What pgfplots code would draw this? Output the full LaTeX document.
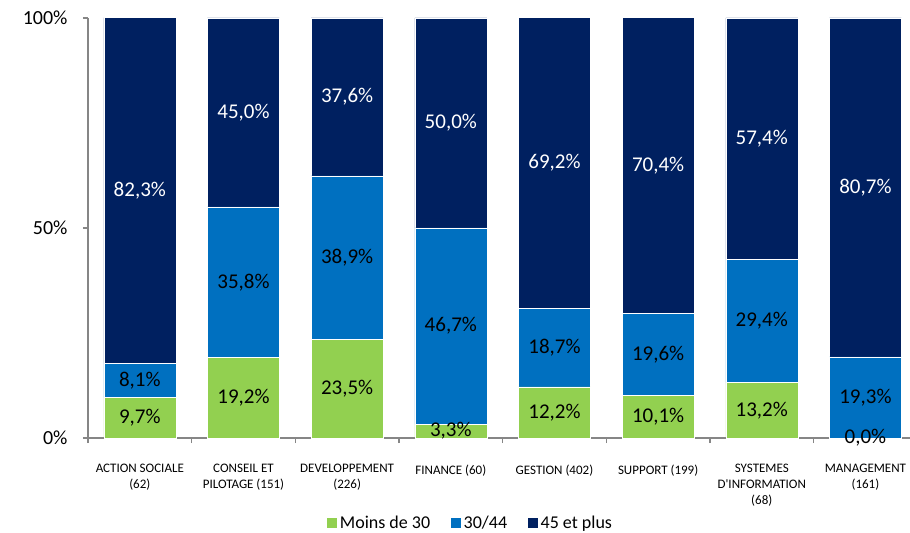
\documentclass[border=0pt]{standalone}
\usepackage{pgfplots}
\pgfplotsset{compat=1.18}
\usepackage{pgfplotstable}
\usepackage{fontspec}
\setmainfont{Carlito}
\definecolor{cgreen}{HTML}{92D050}
\definecolor{cblue}{HTML}{0070C0}
\definecolor{cnavy}{HTML}{002060}
\definecolor{axgray}{HTML}{868686}
\pgfplotstableread{
x g b n
0 9.7 8.1 82.3
1 19.2 35.8 45.0
2 23.5 38.9 37.6
3 3.3 46.7 50.0
4 12.2 18.7 69.2
5 10.1 19.6 70.4
6 13.2 29.4 57.4
7 0.0 19.3 80.7
}\data
\pgfplotsset{
  geom/.style={
    at={(0,0)}, anchor=south west,
    scale only axis, width=822bp, height=420bp,
    xmin=-0.5, xmax=7.43, ymin=0, ymax=100,
    clip=false, ybar stacked, bar width=72bp,
  },
}
\begin{document}
\begin{tikzpicture}
\useasboundingbox (-88bp,-95bp) rectangle (822bp,438bp);
\begin{axis}[
  geom,
  axis x line=bottom, axis y line=left,
  axis line style={draw=axgray, line width=1.5bp, -},
  every tick/.style={draw=axgray, line width=1.5bp},
  tick align=outside,
  ytick={0,50,100},
  yticklabel={\pgfmathprintnumber{\tick}\%},
  yticklabel style={font=\fontsize{20bp}{24bp}\selectfont, anchor=east, xshift=-12bp},
  major tick length=5bp,
  xtick={0,...,7},
  x tick style={draw=none},
  extra x ticks={-0.5,0.5,1.5,2.5,3.5,4.5,5.5,6.5},
  extra x tick labels={},
  extra x tick style={x tick style={draw=axgray, line width=1.5bp}, major tick length=5bp},
  xticklabels={{ACTION SOCIALE\\(62)},{CONSEIL ET\\PILOTAGE (151)},{DEVELOPPEMENT\\(226)},{FINANCE (60)},{GESTION (402)},{SUPPORT (199)},{SYSTEMES\\D\textquotesingle INFORMATION\\(68)},{MANAGEMENT\\(161)}},
  xticklabel style={font=\fontsize{13bp}{15.7bp}\selectfont, align=center, anchor=north, yshift=-18bp},
  /pgf/number format/assume math mode=true,
  legend style={draw=none, at={(0.465,-0.202)}, anchor=center, legend columns=3,
    font=\fontsize{18bp}{21bp}\selectfont,
    /tikz/every even column/.append style={column sep=18bp}},
  legend image code/.code={\fill[#1] (0bp,-5.5bp) rectangle (11bp,5.5bp);},
]
\addplot[fill=cgreen, draw=white, line width=0.5bp] table[x=x, y=g] {\data};
\addplot[fill=cblue, draw=white, line width=0.5bp] table[x=x, y=b] {\data};
\addplot[fill=cnavy, draw=white, line width=0.5bp] table[x=x, y=n] {\data};
\legend{Moins de 30, 30/44, 45 et plus}
\end{axis}
\begin{axis}[
  geom, hide axis,
  /pgf/number format/assume math mode=true,
  nodes near coords={\pgfmathprintnumber[fixed,fixed zerofill,precision=1,use comma]{\pgfplotspointmeta}\%},
  every node near coord/.append style={font=\fontsize{21bp}{25bp}\selectfont, text=black, anchor=center},
]
\addplot[fill=none, draw=none] table[x=x, y expr={max(\thisrow{g},0.01)}, meta=g] {\data};
\addplot[fill=none, draw=none] table[x=x, y=b, meta=b] {\data};
\addplot[fill=none, draw=none, every node near coord/.append style={text=white}] table[x=x, y=n, meta=n] {\data};
\end{axis}
\end{tikzpicture}
\end{document}
